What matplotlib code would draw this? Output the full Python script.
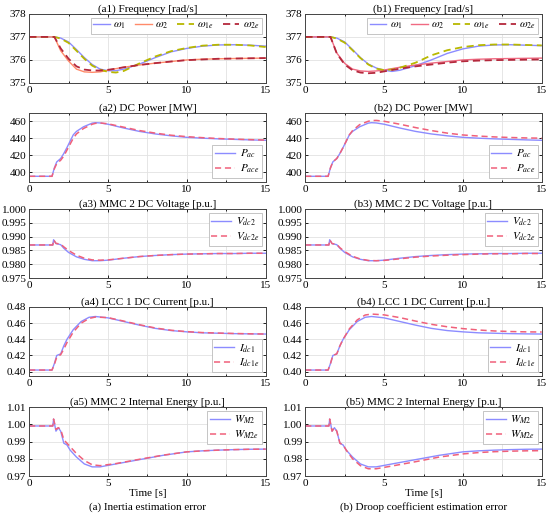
import matplotlib
matplotlib.use("Agg")
import matplotlib.pyplot as plt
from matplotlib.ticker import MultipleLocator

# ---- data (time in s) ----
t_w = [0, 1.6, 2.0, 2.5, 3.0, 3.5, 4.0, 4.5, 5.0, 5.5, 6.0, 7.0, 8.0, 9.0, 10.0, 11.0, 12.0, 13.0, 14.0, 15.0]
a_w1 = [377, 377, 376.95, 376.78, 376.45, 376.1, 375.8, 375.6, 375.53, 375.53, 375.6, 375.82, 376.1, 376.35, 376.5, 376.6, 376.65, 376.66, 376.64, 376.6]
a_w1e = [377, 377, 376.93, 376.74, 376.4, 376.05, 375.75, 375.58, 375.48, 375.45, 375.52, 375.85, 376.15, 376.38, 376.52, 376.62, 376.66, 376.66, 376.63, 376.56]
a_w2 = [377, 377, 376.4, 375.95, 375.6, 375.48, 375.46, 375.48, 375.55, 375.62, 375.68, 375.78, 375.86, 375.93, 376.0, 376.03, 376.05, 376.06, 376.07, 376.08]
a_w2e = [377, 377, 376.5, 376.05, 375.72, 375.58, 375.54, 375.54, 375.57, 375.62, 375.68, 375.78, 375.86, 375.93, 375.99, 376.02, 376.05, 376.06, 376.07, 376.08]
b_w1 = [377, 377, 376.95, 376.78, 376.45, 376.1, 375.82, 375.65, 375.55, 375.5, 375.55, 375.75, 376.0, 376.28, 376.48, 376.6, 376.65, 376.66, 376.64, 376.62]
b_w1e = [377, 377, 376.93, 376.75, 376.42, 376.08, 375.8, 375.62, 375.56, 375.58, 375.66, 375.88, 376.2, 376.42, 376.56, 376.64, 376.67, 376.67, 376.65, 376.63]
b_w2 = [377, 377, 376.3, 375.85, 375.6, 375.52, 375.5, 375.52, 375.56, 375.62, 375.68, 375.78, 375.86, 375.93, 376.0, 376.03, 376.05, 376.06, 376.07, 376.08]
b_w2e = [377, 377, 376.28, 375.8, 375.55, 375.45, 375.42, 375.44, 375.5, 375.56, 375.62, 375.72, 375.8, 375.88, 375.94, 375.97, 375.99, 376.0, 376.01, 376.02]

t_p = [0, 1.45, 1.6, 1.75, 2.0, 2.2, 2.4, 2.8, 3.0, 3.45, 4.0, 4.2, 4.5, 5.0, 6.0, 7.0, 8.0, 9.0, 10.0, 11.0, 12.0, 13.0, 14.0, 15.0]
a_pac = [395, 395, 405, 412, 416, 422, 429, 444, 448, 453.5, 457.8, 458.3, 458.0, 456.5, 452.0, 448.0, 445.0, 442.8, 441.0, 440.0, 439.2, 438.6, 438.0, 437.5]
a_pace = [395, 395, 404, 410, 414, 419, 426, 440, 445, 451.5, 456.5, 457.5, 458.0, 457.0, 453.0, 449.0, 446.0, 443.5, 441.8, 440.6, 439.6, 438.9, 438.3, 437.8]
b_pac = a_pac
b_pace = [395, 395, 405, 412, 416, 422, 429, 444, 449, 456, 460, 460.8, 461.0, 460.0, 456.5, 452.5, 449.0, 446.0, 443.8, 442.5, 441.5, 440.8, 440.3, 440.0]

t_v = [0, 1.5, 1.55, 1.7, 2.0, 2.2, 2.5, 3.0, 3.5, 4.0, 4.5, 5.0, 6.0, 7.0, 8.0, 9.0, 10.0, 11.0, 12.0, 13.0, 14.0, 15.0]
a_v = [0.987, 0.987, 0.9889, 0.9875, 0.9871, 0.9858, 0.9843, 0.9827, 0.9818, 0.9813, 0.9813, 0.9815, 0.9822, 0.9828, 0.9832, 0.9835, 0.9837, 0.9838, 0.9839, 0.9839, 0.984, 0.984]
a_ve = [0.987, 0.987, 0.9889, 0.9876, 0.9873, 0.9863, 0.985, 0.9833, 0.9822, 0.9816, 0.9815, 0.9816, 0.9822, 0.9828, 0.9832, 0.9835, 0.9837, 0.9838, 0.9839, 0.9839, 0.984, 0.984]
b_v = a_v
b_ve = [0.987, 0.987, 0.9889, 0.9875, 0.9872, 0.986, 0.9846, 0.9829, 0.9819, 0.9814, 0.9813, 0.9814, 0.982, 0.9826, 0.983, 0.9833, 0.9835, 0.9837, 0.9838, 0.9838, 0.9839, 0.9839]

t_i = [0, 1.45, 1.6, 1.75, 2.0, 2.2, 2.4, 2.8, 3.3, 3.8, 4.2, 5.0, 6.0, 7.0, 8.0, 9.0, 10.0, 11.0, 12.0, 13.0, 14.0, 15.0]
a_i = [0.402, 0.402, 0.41, 0.42, 0.422, 0.432, 0.440, 0.452, 0.462, 0.4672, 0.4682, 0.4665, 0.462, 0.4575, 0.4535, 0.4508, 0.4492, 0.448, 0.4475, 0.447, 0.4467, 0.4465]
a_ie = [0.402, 0.402, 0.409, 0.418, 0.421, 0.428, 0.436, 0.449, 0.460, 0.4658, 0.4675, 0.4668, 0.4625, 0.458, 0.454, 0.4512, 0.4495, 0.4483, 0.4477, 0.4472, 0.4468, 0.4465]
b_i = a_i
b_ie = [0.402, 0.402, 0.41, 0.42, 0.422, 0.432, 0.440, 0.453, 0.464, 0.4700, 0.4712, 0.4702, 0.4668, 0.4625, 0.4585, 0.4555, 0.4532, 0.4515, 0.4503, 0.4496, 0.4492, 0.449]

t_e = [0, 1.5, 1.55, 1.7, 1.85, 2.0, 2.2, 2.4, 2.6, 3.0, 3.5, 4.0, 4.5, 5.5, 7.0, 8.5, 10.0, 11.0, 12.0, 13.0, 14.0, 15.0]
a_e = [0.999, 0.999, 1.003, 0.996, 0.998, 0.996, 0.989, 0.988, 0.985, 0.981, 0.977, 0.9753, 0.9753, 0.977, 0.9795, 0.982, 0.984, 0.9846, 0.985, 0.9853, 0.9855, 0.9856]
a_ee = [0.999, 0.999, 1.003, 0.997, 0.998, 0.997, 0.991, 0.989, 0.987, 0.983, 0.979, 0.9765, 0.976, 0.9772, 0.9797, 0.9821, 0.984, 0.9846, 0.985, 0.9853, 0.9855, 0.9856]
b_e = a_e
b_ee = [0.999, 0.999, 1.003, 0.996, 0.998, 0.996, 0.989, 0.988, 0.985, 0.980, 0.976, 0.9742, 0.9742, 0.9758, 0.9783, 0.981, 0.9828, 0.9836, 0.9841, 0.9844, 0.9846, 0.9847]

BLUE = "#8c8cff"
RED = "#f0607a"

plt.rcParams["font.family"] = ["Liberation Serif", "DejaVu Serif"]
plt.rcParams["mathtext.fontset"] = "stix"
plt.rcParams["font.size"] = 8

fig = plt.figure(figsize=(5.5, 5.15), dpi=100)
lefts = [0.053, 0.555]
bottoms = [0.839, 0.647, 0.460, 0.270, 0.0757]
W, H = 0.430, 0.134


def style(ax, ylim, yticks, fmt):
    ax.set_xlim(0, 15)
    ax.set_ylim(*ylim)
    ax.set_xticks([0, 5, 10, 15])
    ax.xaxis.set_minor_locator(MultipleLocator(2.5))
    ax.set_yticks(yticks)
    ax.set_yticklabels([fmt.format(v) for v in yticks])
    ax.tick_params(which="both", direction="in", top=True, right=True, length=2.5, width=0.6, labelsize=8, pad=2)
    ax.tick_params(which="minor", length=1.5)
    ax.grid(True, which="both", color="#e2e2e2", lw=0.6)
    ax.set_axisbelow(True)
    for s in ax.spines.values():
        s.set_linewidth(0.7)
        s.set_color("#444444")


def leg(ax, loc, ncol=1):
    lg = ax.legend(loc=loc, ncol=ncol, fontsize=8, fancybox=False, edgecolor="#bbbbbb",
                   framealpha=1, handlelength=1.8, borderpad=0.25, labelspacing=0.2,
                   columnspacing=0.7, handletextpad=0.4, borderaxespad=0.35)
    lg.get_frame().set_linewidth(0.6)


panels = [
    ("a", a_w1, a_w1e, a_w2, a_w2e, "#ff8a6a"),
    ("b", b_w1, b_w1e, b_w2, b_w2e, "#f06a82"),
]
for col, (p, w1, w1e, w2, w2e, c2) in enumerate(panels):
    x0 = lefts[col]
    # row 1: frequency
    ax = fig.add_axes([x0, bottoms[0], W, H])
    ax.plot(t_w, w1, color=BLUE, lw=1.0, label=r"$\omega_1$")
    ax.plot(t_w, w2, color=c2, lw=1.0, label=r"$\omega_2$")
    ax.plot(t_w, w1e, color="#b8b800", lw=1.3, ls=(0, (4, 2.5)), label=r"$\omega_{1e}$")
    ax.plot(t_w, w2e, color="#b4283c", lw=1.3, ls=(0, (4, 2.5)), label=r"$\omega_{2e}$")
    style(ax, (375, 378), [375, 376, 377, 378], "{:.0f}")
    lg = ax.legend(loc="upper right", ncol=4, fontsize=8, fancybox=False, edgecolor="#bbbbbb",
                   framealpha=1, handlelength=1.5, borderpad=0.2, columnspacing=0.8,
                   handletextpad=0.3, borderaxespad=0.35)
    lg.get_frame().set_linewidth(0.6)
    ax.set_title(f"({p}1) Frequency [rad/s]", fontsize=8, pad=1.5)

    series = [
        (t_p, a_pac if p == "a" else b_pac, a_pace if p == "a" else b_pace,
         r"$P_{ac}$", r"$P_{ace}$", (388.5, 470), [400, 420, 440, 460], "{:.0f}", "lower right",
         f"({p}2) DC Power [MW]"),
        (t_v, a_v if p == "a" else b_v, a_ve if p == "a" else b_ve,
         r"$V_{dc2}$", r"$V_{dc2e}$", (0.975, 1.0), [0.975, 0.980, 0.985, 0.990, 0.995, 1.000], "{:.3f}",
         "upper right", f"({p}3) MMC 2 DC Voltage [p.u.]"),
        (t_i, a_i if p == "a" else b_i, a_ie if p == "a" else b_ie,
         r"$I_{dc1}$", r"$I_{dc1e}$", (0.3947, 0.48), [0.40, 0.42, 0.44, 0.46, 0.48], "{:.2f}",
         "lower right", f"({p}4) LCC 1 DC Current [p.u.]"),
        (t_e, a_e if p == "a" else b_e, a_ee if p == "a" else b_ee,
         r"$W_{M2}$", r"$W_{M2e}$", (0.97, 1.01), [0.97, 0.98, 0.99, 1.00, 1.01], "{:.2f}",
         "upper right", f"({p}5) MMC 2 Internal Energy [p.u.]"),
    ]
    for row, (tt, y, ye, l1, l2, ylim, yt, fmt, loc, title) in enumerate(series, start=1):
        ax = fig.add_axes([x0, bottoms[row], W, H])
        ax.plot(tt, y, color=BLUE, lw=1.0, label=l1)
        ax.plot(tt, ye, color=RED, lw=1.1, ls=(0, (4, 2.5)), label=l2)
        style(ax, ylim, yt, fmt)
        leg(ax, loc)
        ax.set_title(title, fontsize=8, pad=1.5)
        if row == 4:
            ax.set_xlabel("Time [s]", fontsize=8, labelpad=1)

fig.text(lefts[0] + W / 2, 0.005, "(a) Inertia estimation error", ha="center", va="bottom", fontsize=8)
fig.text(lefts[1] + W / 2, 0.005, "(b) Droop coefficient estimation error", ha="center", va="bottom", fontsize=8)

fig.savefig("out.png", dpi=100)
plt.close(fig)
